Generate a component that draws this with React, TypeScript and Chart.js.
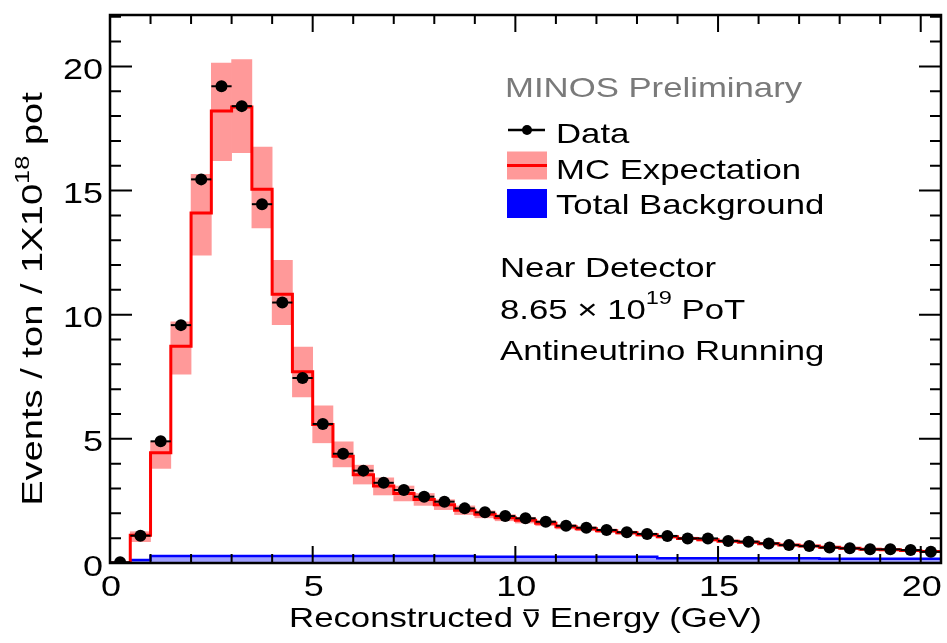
import React, { useEffect, useRef } from "react";
import { Chart, registerables } from "chart.js";

Chart.register(...registerables);

// ---- data (0.5 GeV bins) ----
const energies = [
  0.25, 0.75, 1.25, 1.75, 2.25, 2.75, 3.25, 3.75, 4.25, 4.75,
  5.25, 5.75, 6.25, 6.75, 7.25, 7.75, 8.25, 8.75, 9.25, 9.75,
  10.25, 10.75, 11.25, 11.75, 12.25, 12.75, 13.25, 13.75, 14.25, 14.75,
  15.25, 15.75, 16.25, 16.75, 17.25, 17.75, 18.25, 18.75, 19.25, 19.75,
  20.25,
];
const binHalfWidth = 0.25;

const dataValues = [
  0.03, 1.1, 4.9, 9.58, 15.45, 19.2, 18.4, 14.45, 10.49, 7.45,
  5.6, 4.4, 3.72, 3.23, 2.94, 2.67, 2.47, 2.2, 2.04, 1.89,
  1.8, 1.66, 1.5, 1.42, 1.33, 1.24, 1.17, 1.09, 0.99, 0.99,
  0.89, 0.86, 0.79, 0.72, 0.68, 0.62, 0.59, 0.55, 0.55, 0.52,
  0.45,
];

const mcValues = [
  0.0, 1.12, 4.44, 8.73, 14.1, 18.2, 18.36, 15.05, 10.82, 7.7,
  5.58, 4.3, 3.55, 3.1, 2.8, 2.56, 2.35, 2.12, 1.96, 1.82,
  1.72, 1.6, 1.46, 1.38, 1.3, 1.22, 1.14, 1.06, 0.99, 0.94,
  0.88, 0.84, 0.78, 0.72, 0.68, 0.63, 0.59, 0.55, 0.53, 0.5,
  0.46,
];

const mcBandLow = [
  0.0, 0.86, 3.81, 7.6, 12.4, 16.2, 16.53, 13.49, 9.6, 6.69,
  4.84, 3.87, 3.18, 2.74, 2.5, 2.32, 2.15, 1.95, 1.82, 1.7,
  1.61, 1.5, 1.37, 1.3, 1.23, 1.16, 1.08, 1.01, 0.94, 0.89,
  0.84, 0.8, 0.74, 0.69, 0.65, 0.6, 0.56, 0.52, 0.5, 0.47,
  0.43,
];
const mcBandHigh = [
  0.0, 1.26, 4.88, 9.71, 15.65, 20.13, 20.27, 16.75, 12.19, 8.7,
  6.33, 4.88, 3.94, 3.43, 3.1, 2.8, 2.55, 2.3, 2.1, 1.95,
  1.84, 1.7, 1.55, 1.46, 1.37, 1.28, 1.2, 1.11, 1.04, 0.99,
  0.92, 0.88, 0.82, 0.75, 0.71, 0.66, 0.62, 0.58, 0.56, 0.53,
  0.49,
];

const backgroundValues = [
  0.0, 0.12, 0.28, 0.28, 0.28, 0.28, 0.28, 0.28, 0.28, 0.28,
  0.28, 0.28, 0.28, 0.28, 0.28, 0.28, 0.28, 0.28, 0.25, 0.25,
  0.25, 0.25, 0.25, 0.25, 0.25, 0.25, 0.25, 0.19, 0.19, 0.19,
  0.19, 0.19, 0.19, 0.19, 0.19, 0.17, 0.17, 0.17, 0.17, 0.17,
  0.17,
];

// ---- axes ----
const xMin = 0;
const xMax = 20.5;
const yMin = 0;
const yMax = 22.07;
const xMajorTicks = [0, 5, 10, 15, 20];
const xTickLabels = ["0", "5", "10", "15", "20"];
const xMinorTicks = [1, 2, 3, 4, 6, 7, 8, 9, 11, 12, 13, 14, 16, 17, 18, 19];
const yMajorTicks = [0, 5, 10, 15, 20];
const yTickLabels = ["0", "5", "10", "15", "20"];
const yMinorTicks = [1, 2, 3, 4, 6, 7, 8, 9, 11, 12, 13, 14, 16, 17, 18, 19, 21, 22];

const FONT = '"Liberation Sans", Arial, Helvetica, sans-serif';
const SX = 1.24;

type Seg = { t: string; size: number; dy?: number; overline?: boolean };

function segWidth(ctx: CanvasRenderingContext2D, s: Seg) {
  ctx.font = `${s.size}px ${FONT}`;
  return ctx.measureText(s.t).width;
}

function drawRich(
  ctx: CanvasRenderingContext2D,
  segs: Seg[],
  x: number,
  y: number,
  opts: { align?: "left" | "center" | "right"; color?: string; rotate?: number; sx?: number } = {}
) {
  const sx = opts.sx ?? SX;
  ctx.save();
  ctx.translate(x, y);
  if (opts.rotate) ctx.rotate(opts.rotate);
  ctx.scale(sx, 1);
  ctx.textAlign = "left";
  ctx.textBaseline = "alphabetic";
  ctx.fillStyle = opts.color ?? "#000";
  ctx.strokeStyle = opts.color ?? "#000";
  let total = 0;
  for (const s of segs) total += segWidth(ctx, s);
  let cx = 0;
  if (opts.align === "center") cx = -total / 2;
  else if (opts.align === "right") cx = -total;
  for (const s of segs) {
    ctx.font = `${s.size}px ${FONT}`;
    const w = ctx.measureText(s.t).width;
    ctx.fillText(s.t, cx, s.dy ?? 0);
    if (s.overline) {
      ctx.lineWidth = 1.8;
      ctx.beginPath();
      ctx.moveTo(cx + 1, -s.size * 0.6);
      ctx.lineTo(cx + w - 1, -s.size * 0.6);
      ctx.stroke();
    }
    cx += w;
  }
  ctx.restore();
}

function stepPoints(values: number[]) {
  const pts: { x: number; y: number }[] = [];
  energies.forEach((e, i) => {
    pts.push({ x: e - binHalfWidth, y: values[i] });
    pts.push({ x: e + binHalfWidth, y: values[i] });
  });
  return pts;
}

const decorPlugin = {
  id: "decor",
  afterDatasetsDraw(chart: any) {
    const ctx: CanvasRenderingContext2D = chart.ctx;
    const xs = chart.scales.x;
    const ys = chart.scales.y;
    // horizontal error bars on data points
    ctx.save();
    ctx.strokeStyle = "#000";
    ctx.lineWidth = 2;
    energies.forEach((e, i) => {
      const py = ys.getPixelForValue(dataValues[i]);
      ctx.beginPath();
      ctx.moveTo(xs.getPixelForValue(e - binHalfWidth), py);
      ctx.lineTo(xs.getPixelForValue(e + binHalfWidth), py);
      ctx.stroke();
    });
    ctx.restore();
  },
  afterDraw(chart: any) {
    const ctx: CanvasRenderingContext2D = chart.ctx;
    const xs = chart.scales.x;
    const ys = chart.scales.y;
    const a = chart.chartArea;
    ctx.save();
    // ticks
    ctx.strokeStyle = "#000";
    ctx.lineWidth = 2;
    const vTick = (v: number, len: number) => {
      const py = ys.getPixelForValue(v);
      ctx.beginPath();
      ctx.moveTo(a.left, py);
      ctx.lineTo(a.left + len, py);
      ctx.moveTo(a.right, py);
      ctx.lineTo(a.right - len, py);
      ctx.stroke();
    };
    const hTick = (v: number, len: number) => {
      const px = xs.getPixelForValue(v);
      ctx.beginPath();
      ctx.moveTo(px, a.bottom);
      ctx.lineTo(px, a.bottom - len);
      ctx.moveTo(px, a.top);
      ctx.lineTo(px, a.top + len);
      ctx.stroke();
    };
    yMajorTicks.forEach((v) => vTick(v, 22));
    yMinorTicks.forEach((v) => vTick(v, 11));
    xMajorTicks.forEach((v) => hTick(v, 17));
    xMinorTicks.forEach((v) => hTick(v, 9));
    // frame
    ctx.lineWidth = 2.5;
    ctx.strokeRect(a.left, a.top, a.right - a.left, a.bottom - a.top);

    // tick labels
    yMajorTicks.forEach((v, i) => {
      drawRich(ctx, [{ t: yTickLabels[i], size: 29 }], 103, ys.getPixelForValue(v) + 12.5, { align: "right" });
    });
    xMajorTicks.forEach((v, i) => {
      drawRich(ctx, [{ t: xTickLabels[i], size: 29 }], xs.getPixelForValue(v) + 1, 596, { align: "center" });
    });

    // axis titles
    drawRich(
      ctx,
      [
        { t: "Reconstructed ", size: 28 },
        { t: "ν", size: 28, overline: true },
        { t: " Energy (GeV)", size: 28 },
      ],
      (a.left + a.right) / 2,
      627,
      { align: "center" }
    );
    drawRich(
      ctx,
      [
        { t: "Events / ton / 1X10", size: 30 },
        { t: "18", size: 20, dy: -13 },
        { t: " pot", size: 30 },
      ],
      42,
      (a.top + a.bottom) / 2 + 10,
      { align: "center", rotate: -Math.PI / 2, sx: 1.27 }
    );

    // legend
    drawRich(ctx, [{ t: "MINOS Preliminary", size: 28 }], 505, 97, { color: "#7a7a7a" });
    // Data symbol
    ctx.strokeStyle = "#000";
    ctx.lineWidth = 2.5;
    ctx.beginPath();
    ctx.moveTo(508, 130);
    ctx.lineTo(545, 130);
    ctx.stroke();
    ctx.fillStyle = "#000";
    ctx.beginPath();
    ctx.arc(527, 130, 5, 0, Math.PI * 2);
    ctx.fill();
    drawRich(ctx, [{ t: "Data", size: 28 }], 556, 143);
    // MC symbol
    ctx.fillStyle = "rgb(255,153,153)";
    ctx.fillRect(507, 151.5, 40, 28);
    ctx.strokeStyle = "#ff0000";
    ctx.lineWidth = 3;
    ctx.beginPath();
    ctx.moveTo(507, 165.5);
    ctx.lineTo(547, 165.5);
    ctx.stroke();
    drawRich(ctx, [{ t: "MC Expectation", size: 28 }], 556, 178.5);
    // Background symbol
    ctx.fillStyle = "#0000ff";
    ctx.fillRect(507, 189, 40, 29);
    drawRich(ctx, [{ t: "Total Background", size: 28 }], 556, 214);

    // info text
    drawRich(ctx, [{ t: "Near Detector", size: 28 }], 500, 277);
    drawRich(
      ctx,
      [
        { t: "8.65 × 10", size: 28 },
        { t: "19", size: 19, dy: -15 },
        { t: " PoT", size: 28 },
      ],
      500,
      319
    );
    drawRich(ctx, [{ t: "Antineutrino Running", size: 28 }], 500, 360);
    ctx.restore();
  },
};

export default function App() {
  const canvasRef = useRef<HTMLCanvasElement | null>(null);

  useEffect(() => {
    const canvas = canvasRef.current;
    if (!canvas) return;
    const chart = new Chart(canvas, {
      type: "line",
      data: {
        datasets: [
          {
            type: "scatter",
            label: "Data",
            data: energies.map((e, i) => ({ x: e, y: dataValues[i] })),
            pointRadius: 6,
            pointBackgroundColor: "#000",
            pointBorderColor: "#000",
            pointBorderWidth: 0,
            showLine: false,
            order: 0,
          } as any,
          {
            type: "line",
            label: "MC Expectation",
            data: stepPoints(mcValues),
            borderColor: "#ff0000",
            borderWidth: 3,
            pointRadius: 0,
            tension: 0,
            fill: false,
            order: 1,
          } as any,
          {
            type: "line",
            label: "Total Background",
            data: stepPoints(backgroundValues),
            borderColor: "#0000ff",
            backgroundColor: "rgba(80,80,255,0.55)",
            borderWidth: 2.5,
            pointRadius: 0,
            tension: 0,
            fill: "origin",
            order: 2,
          } as any,
          {
            type: "bar",
            label: "MC band",
            data: energies.map((e, i) => ({ x: e, y: [mcBandLow[i], mcBandHigh[i]] })),
            backgroundColor: "rgb(255,153,153)",
            borderWidth: 0,
            barPercentage: 1,
            categoryPercentage: 1,
            grouped: false,
            order: 3,
          } as any,
        ],
      },
      options: {
        responsive: false,
        animation: false,
        events: [],
        layout: { padding: { top: 15, right: 3, left: 0, bottom: 0 } },
        plugins: { legend: { display: false }, tooltip: { enabled: false } },
        scales: {
          x: {
            type: "linear",
            min: xMin,
            max: xMax,
            offset: false,
            ticks: { display: false },
            grid: { display: false },
            border: { display: false },
            afterFit: (s: any) => {
              s.height = 80;
            },
          },
          y: {
            type: "linear",
            min: yMin,
            max: yMax,
            ticks: { display: false },
            grid: { display: false },
            border: { display: false },
            afterFit: (s: any) => {
              s.width = 110;
            },
          },
        },
      } as any,
      plugins: [decorPlugin],
    });
    return () => chart.destroy();
  }, []);

  return (
    <div style={{ position: "fixed", left: 0, top: 0, width: 947, height: 643, background: "#fff" }}>
      <canvas ref={canvasRef} width={947} height={643} style={{ display: "block" }} />
    </div>
  );
}
